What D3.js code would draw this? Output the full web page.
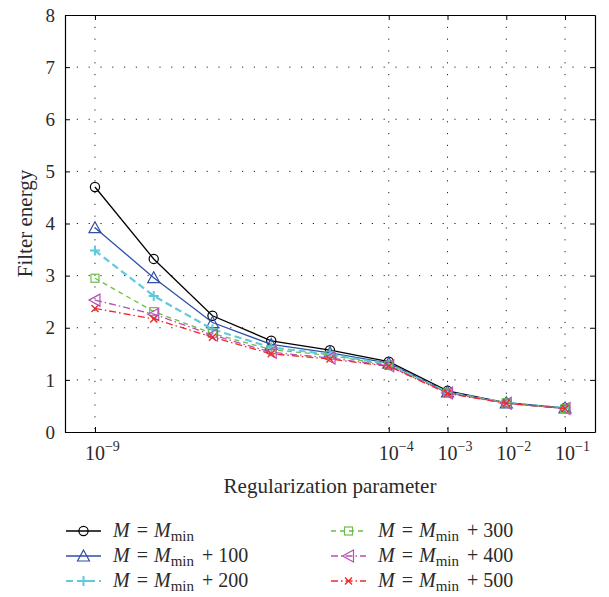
<!DOCTYPE html>
<html>
<head>
<meta charset="utf-8">
<script src="https://cdn.jsdelivr.net/npm/d3@7"></script>
<style>
  body { margin: 0; background: #fff; }
  svg { font-family: "Liberation Serif", "DejaVu Serif", serif; }
  .domain { stroke: #000; stroke-width: 1.2; }
  .tick line { stroke: #000; }
  .grid line { stroke: #222; stroke-width: 1; stroke-dasharray: 1.2 10.6; }
</style>
</head>
<body>
<div id="chart"></div>
<script>
const lambdas = [1e-9, 1e-8, 1e-7, 1e-6, 1e-5, 1e-4, 1e-3, 1e-2, 1e-1];
const xTicks = [1e-9, 1e-4, 1e-3, 1e-2, 1e-1];
const yTicks = [0, 1, 2, 3, 4, 5, 6, 7, 8];

const seriesNames = ['', '100', '200', '300', '400', '500'];
const energyMin    = [4.70, 3.32, 2.23, 1.75, 1.57, 1.35, 0.79, 0.56, 0.46];
const energyPlus100 = [3.92, 2.96, 2.10, 1.68, 1.52, 1.32, 0.77, 0.56, 0.46];
const energyPlus200 = [3.48, 2.61, 1.97, 1.62, 1.49, 1.30, 0.76, 0.56, 0.46];
const energyPlus300 = [2.95, 2.31, 1.89, 1.58, 1.47, 1.28, 0.75, 0.56, 0.45];
const energyPlus400 = [2.53, 2.26, 1.86, 1.53, 1.42, 1.27, 0.75, 0.55, 0.45];
const energyPlus500 = [2.37, 2.17, 1.82, 1.50, 1.40, 1.26, 0.74, 0.55, 0.45];

const styles = [
    { color: '#000000', dash: null, width: 1.3, marker: 'circle' },
    { color: '#2f4fa6', dash: null, width: 1.3, marker: 'triUp' },
    { color: '#62c8dc', dash: '7 4', width: 2.2, marker: 'plus' },
    { color: '#6cbf4a', dash: '5 4', width: 1.3, marker: 'square' },
    { color: '#b652b6', dash: '7 3 1.5 3', width: 1.3, marker: 'triLeft' },
    { color: '#ee2a2a', dash: '7 3 1.5 3', width: 1.3, marker: 'cross' }
];

const allValues = [energyMin, energyPlus100, energyPlus200, energyPlus300, energyPlus400, energyPlus500];
const series = allValues.map((vals, i) => ({
    name: seriesNames[i],
    points: lambdas.map((l, j) => ({ x: l, y: vals[j] })),
    style: styles[i]
}));

const width = 609, height = 597;
const margin = { top: 15, right: 14, bottom: 165, left: 65 };
const plotW = width - margin.left - margin.right;
const plotH = height - margin.top - margin.bottom;

const svg = d3.select('#chart').append('svg')
    .attr('width', width)
    .attr('height', height);

const g = svg.append('g')
    .attr('transform', `translate(${margin.left},${margin.top})`);

const x = d3.scaleLog()
    .domain([Math.pow(10, -9.51), Math.pow(10, -0.49)])
    .range([0, plotW]);

const y = d3.scaleLinear()
    .domain([0, 8])
    .range([plotH, 0]);

// grid
g.append('g').attr('class', 'grid')
    .selectAll('line').data(xTicks).enter().append('line')
    .attr('x1', d => x(d)).attr('x2', d => x(d))
    .attr('y1', 0).attr('y2', plotH);

g.append('g').attr('class', 'grid')
    .selectAll('line').data(yTicks.slice(1, -1)).enter().append('line')
    .attr('x1', 0).attr('x2', plotW)
    .attr('y1', d => y(d)).attr('y2', d => y(d));

// axes with inward ticks, box on
g.append('g')
    .attr('transform', `translate(0,${plotH})`)
    .call(d3.axisBottom(x).tickValues(xTicks).tickSizeInner(-5).tickSizeOuter(0).tickFormat(''));
g.append('g')
    .call(d3.axisTop(x).tickValues(xTicks).tickSizeInner(-5).tickSizeOuter(0).tickFormat(''));
g.append('g')
    .call(d3.axisLeft(y).tickValues(yTicks).tickSizeInner(-5).tickSizeOuter(0).tickFormat(''));
g.append('g')
    .attr('transform', `translate(${plotW},0)`)
    .call(d3.axisRight(y).tickValues(yTicks).tickSizeInner(-5).tickSizeOuter(0).tickFormat(''));

// tick labels
const xLab = g.append('g').selectAll('text').data(xTicks).enter().append('text')
    .attr('x', d => x(d) - 10)
    .attr('y', plotH + 28)
    .style('font-size', '20px')
    .style('fill', '#2a2a2a');
xLab.append('tspan').text('10');
xLab.append('tspan')
    .attr('dy', -9)
    .style('font-size', '14px')
    .text(d => '\u2212' + Math.round(-Math.log10(d)));

g.append('g').selectAll('text').data(yTicks).enter().append('text')
    .attr('x', -10)
    .attr('y', d => y(d))
    .attr('dy', '0.35em')
    .attr('text-anchor', 'end')
    .style('font-size', '19px')
    .style('fill', '#2a2a2a')
    .text(d => d);

// axis titles
g.append('text')
    .attr('x', plotW / 2)
    .attr('y', plotH + 61)
    .attr('text-anchor', 'middle')
    .style('font-size', '21px')
    .style('fill', '#2a2a2a')
    .text('Regularization parameter');

g.append('text')
    .attr('transform', `translate(${-33},${plotH / 2}) rotate(-90)`)
    .attr('text-anchor', 'middle')
    .style('font-size', '21px')
    .style('fill', '#2a2a2a')
    .text('Filter energy');

// markers
function drawMarker(sel, type, color) {
    const s = 5;
    if (type === 'circle') {
        sel.append('circle').attr('r', 4.6)
            .attr('fill', 'none').attr('stroke', color).attr('stroke-width', 1.2);
    } else if (type === 'triUp') {
        sel.append('path').attr('d', `M0,${-s - 1}L${s + 1},${s}L${-s - 1},${s}Z`)
            .attr('fill', 'none').attr('stroke', color).attr('stroke-width', 1.2);
    } else if (type === 'triLeft') {
        sel.append('path').attr('d', `M${-s - 1},0L${s},${-s - 1}L${s},${s + 1}Z`)
            .attr('fill', 'none').attr('stroke', color).attr('stroke-width', 1.2);
    } else if (type === 'square') {
        sel.append('rect').attr('x', -4).attr('y', -4).attr('width', 8).attr('height', 8)
            .attr('fill', 'none').attr('stroke', color).attr('stroke-width', 1.2);
    } else if (type === 'plus') {
        sel.append('path').attr('d', `M${-s},0H${s}M0,${-s}V${s}`)
            .attr('stroke', color).attr('stroke-width', 2);
    } else if (type === 'cross') {
        sel.append('path').attr('d', 'M-3.5,-3.5L3.5,3.5M-3.5,3.5L3.5,-3.5')
            .attr('stroke', color).attr('stroke-width', 1.4);
    }
}

const line = d3.line()
    .x(d => x(d.x))
    .y(d => y(d.y));

const seriesG = g.selectAll('.series')
    .data(series)
    .enter()
    .append('g')
    .attr('class', 'series');

seriesG.append('path')
    .attr('d', d => line(d.points))
    .attr('fill', 'none')
    .attr('stroke', d => d.style.color)
    .attr('stroke-width', d => d.style.width)
    .attr('stroke-dasharray', d => d.style.dash);

seriesG.each(function(d) {
    const grp = d3.select(this);
    d.points.forEach(p => {
        const m = grp.append('g').attr('transform', `translate(${x(p.x)},${y(p.y)})`);
        drawMarker(m, d.style.marker, d.style.color);
    });
});

// legend
const legendRows = [531, 556, 581];
const legendCols = [66, 331];
const legend = svg.append('g');

series.forEach((s, i) => {
    const col = Math.floor(i / 3), row = i % 3;
    const lx = legendCols[col], ly = legendRows[row];
    const item = legend.append('g').attr('transform', `translate(${lx},${ly})`);
    item.append('line')
        .attr('x1', 0).attr('x2', 35).attr('y1', 0).attr('y2', 0)
        .attr('stroke', s.style.color)
        .attr('stroke-width', s.style.width)
        .attr('stroke-dasharray', s.style.dash);
    drawMarker(item.append('g').attr('transform', 'translate(17.5,0)'), s.style.marker, s.style.color);

    const t = item.append('text')
        .attr('x', 47)
        .attr('y', 6)
        .style('font-size', '20px')
        .style('fill', '#2a2a2a');
    t.append('tspan').style('font-style', 'italic').text('M');
    t.append('tspan').attr('dx', 7).text('=');
    t.append('tspan').attr('dx', 6).style('font-style', 'italic').text('M');
    t.append('tspan').attr('dy', 4).style('font-size', '15px').text('min');
    if (s.name) {
        t.append('tspan').attr('dy', -4).attr('dx', 8).text('+');
        t.append('tspan').attr('dx', 5).text(s.name);
    }
});
</script>
</body>
</html>
